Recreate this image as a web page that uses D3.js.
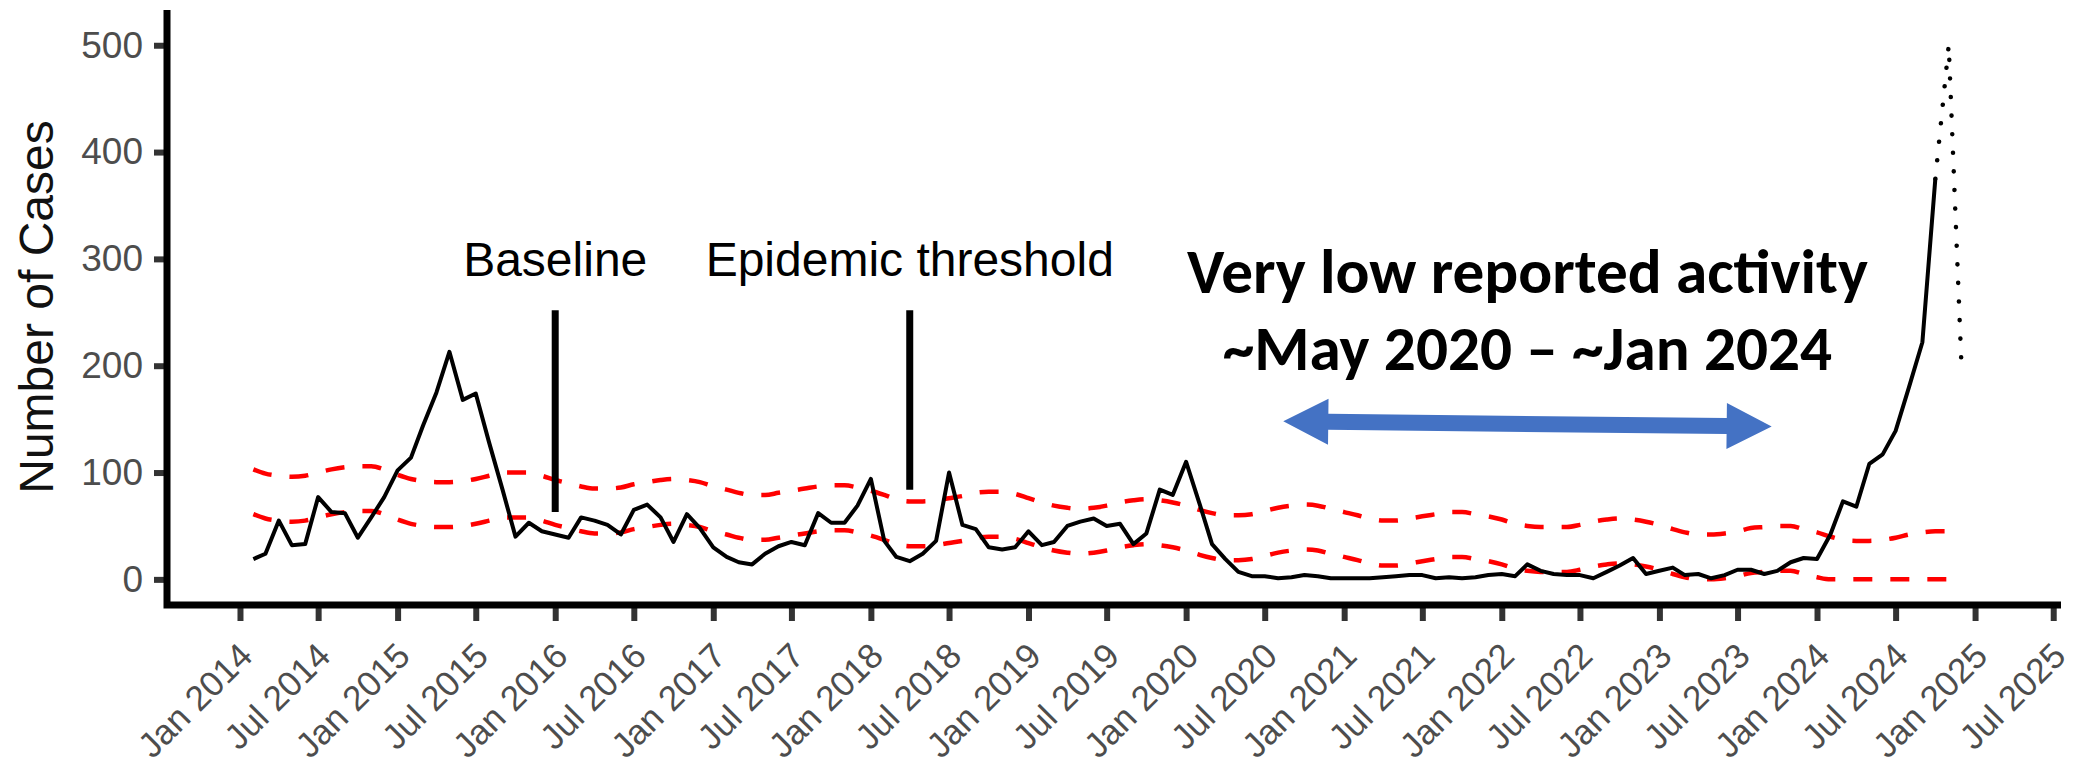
<!DOCTYPE html>
<html>
<head>
<meta charset="utf-8">
<script src="https://d3js.org/d3.v7.min.js"></script>
<style>
body { margin: 0; background: #fff; }
</style>
</head>
<body>
<script>
var width = 2085, height = 767;

// monthly reported cases, Feb 2014 .. Oct 2024
var caseStart = new Date(2014, 1, 1);
var cases = [19,24,55,32,33,77,63,62,39,58,
77,102,114,144,175,213,168,174,128,84,
40,53,45,42,39,58,55,51,42,65,
70,58,35,61,48,30,21,16,14,24,
31,35,32,62,53,53,69,94,36,21,
17,24,36,100,51,47,30,28,30,45,
32,35,50,54,57,50,52,33,43,84,
79,110,71,33,19,7,3,3,1,2,
4,3,1,1,1,1,2,3,4,4,
1,2,1,2,4,5,3,14,8,5,
4,4,1,7,13,20,5,8,11,4,
5,1,4,9,9,5,8,16,20,19,
42,73,68,108,117,139,180,222,375];

// dotted continuation, Oct 2024 .. Dec 2024
var dottedStart = new Date(2024, 9, 1);
var dotted = [375, 500, 195];

// epidemic threshold and baseline, Feb 2014 .. Dec 2024
var bandStart = new Date(2014, 1, 1);
var threshold = [103,99,97,96,97,100,103,105,106,106,
103,98,94,92,91,91,92,94,97,100,
100,100,97,93,90,87,85,85,86,89,
91,93,94,93,91,87,84,81,79,79,
81,83,85,87,88,88,86,83,79,75,
73,73,74,76,78,81,82,82,80,76,
72,69,67,66,67,69,72,74,75,74,
72,69,65,62,60,60,61,64,67,69,
70,69,66,63,60,57,55,55,57,59,
61,63,63,61,59,56,52,50,49,49,
49,51,54,56,57,56,54,51,47,44,
42,42,43,45,48,49,50,50,47,44,
40,37,36,36,37,39,42,44,45,45,44];
var baseline = [61,57,55,54,55,58,61,63,64,64,
61,56,52,50,49,49,50,52,55,58,
58,58,55,51,48,45,43,43,44,47,
49,51,52,51,49,45,42,39,37,37,
39,41,43,45,46,46,44,41,37,33,
31,31,32,34,36,39,40,40,38,34,
30,27,25,24,25,27,30,32,33,32,
30,27,23,20,18,18,19,22,25,27,
28,27,24,21,18,15,13,13,15,17,
19,21,21,19,17,14,10,8,7,7,
7,9,12,14,15,14,12,9,5,2,
0,0,1,3,6,7,8,8,5,2,
0,0,0,0,0,0,0,0,0,0,0];

var yTicks = [0, 100, 200, 300, 400, 500];
var xTicks = d3.timeMonth.range(new Date(2014, 0, 1), new Date(2025, 7, 1), 6);

// annotations
var pointerLabels = ["Baseline", "Epidemic threshold"];
var pointerDates = [new Date(2016, 0, 1), new Date(2018, 3, 1)];
var pointerTop = [252, 252];
var pointerBottom = [63, 84];
var pointerLabelValue = 284;
var noteLines = ["Very low reported activity", "~May 2020 \u2013 ~Jan 2024"];
var arrowFrom = {date: new Date(2020, 7, 13), value: 148};
var arrowTo = {date: new Date(2023, 8, 18), value: 143};

function series(start, values) {
  return values.map(function(v, i) { return {date: d3.timeMonth.offset(start, i), value: v}; });
}

var svg = d3.select("body").append("svg")
  .attr("width", width).attr("height", height)
  .style("background", "#fff");

var x = d3.scaleTime()
  .domain([new Date(2013, 6, 16), new Date(2025, 6, 19)])
  .range([167, 2061]);
var y = d3.scaleLinear()
  .domain([-24, 533])
  .range([605, 10]);

var fmt = d3.timeFormat("%b %Y");

// x axis
var gx = svg.append("g")
  .attr("transform", "translate(0," + y.range()[0] + ")")
  .call(d3.axisBottom(x).tickValues(xTicks).tickFormat(fmt).tickSize(16).tickSizeOuter(0));
gx.select(".domain").remove();
gx.selectAll(".tick line").attr("stroke", "#333").attr("stroke-width", 6);
gx.selectAll(".tick text")
  .attr("x", 0).attr("y", 0).attr("dy", 0)
  .attr("text-anchor", "end")
  .attr("transform", "translate(14,53) rotate(-45)")
  .attr("fill", "#4d4d4d")
  .style("font-family", "'Liberation Sans', Arial, sans-serif")
  .style("font-size", "35px");

// y axis
var gy = svg.append("g")
  .attr("transform", "translate(" + x.range()[0] + ",0)")
  .call(d3.axisLeft(y).tickValues(yTicks).tickSize(13).tickPadding(11).tickSizeOuter(0));
gy.select(".domain").remove();
gy.selectAll(".tick line").attr("stroke", "#333").attr("stroke-width", 6);
gy.selectAll(".tick text")
  .attr("fill", "#4d4d4d")
  .style("font-family", "'Liberation Sans', Arial, sans-serif")
  .style("font-size", "37px");

// axis lines
svg.append("path")
  .attr("d", "M" + x.range()[0] + "," + y.range()[1] + "V" + y.range()[0] + "H" + x.range()[1])
  .attr("fill", "none").attr("stroke", "#000").attr("stroke-width", 7)
  .attr("stroke-linejoin", "miter");

svg.append("text")
  .attr("transform", "translate(53," + 307 + ") rotate(-90)")
  .attr("text-anchor", "middle")
  .style("font-family", "'Liberation Sans', Arial, sans-serif")
  .style("font-size", "48px")
  .attr("fill", "#111")
  .text("Number of Cases");

var line = d3.line().x(function(d) { return x(d.date); }).y(function(d) { return y(d.value); });
var smooth = d3.line().curve(d3.curveMonotoneX)
  .x(function(d) { return x(d.date); }).y(function(d) { return y(d.value); });

// threshold bands
[threshold, baseline].forEach(function(vals) {
  svg.append("path")
    .datum(series(bandStart, vals))
    .attr("d", smooth)
    .attr("fill", "none").attr("stroke", "#ff0000").attr("stroke-width", 4.5)
    .attr("stroke-dasharray", "19 18");
});

// cases
svg.append("path")
  .datum(series(caseStart, cases))
  .attr("d", line)
  .attr("fill", "none").attr("stroke", "#000").attr("stroke-width", 4)
  .attr("stroke-linejoin", "round");

svg.append("path")
  .datum(series(dottedStart, dotted))
  .attr("d", line)
  .attr("fill", "none").attr("stroke", "#000").attr("stroke-width", 4.5)
  .attr("stroke-linecap", "round")
  .attr("stroke-dasharray", "0.1 18.5");

// pointer lines and labels
pointerLabels.forEach(function(lbl, i) {
  var px = x(pointerDates[i]);
  svg.append("line")
    .attr("x1", px).attr("x2", px)
    .attr("y1", y(pointerTop[i])).attr("y2", y(pointerBottom[i]))
    .attr("stroke", "#000").attr("stroke-width", 7);
  svg.append("text")
    .attr("x", px).attr("y", y(pointerLabelValue))
    .attr("text-anchor", "middle")
    .style("font-family", "'Liberation Sans', Arial, sans-serif")
    .style("font-size", "48px")
    .attr("fill", "#000")
    .text(lbl);
});

// double arrow
var ax1 = x(arrowFrom.date), ay1 = y(arrowFrom.value);
var ax2 = x(arrowTo.date), ay2 = y(arrowTo.value);
var len = Math.hypot(ax2 - ax1, ay2 - ay1);
var ang = Math.atan2(ay2 - ay1, ax2 - ax1) * 180 / Math.PI;
var sh = 8, hw = 23, hl = 45;
svg.append("path")
  .attr("transform", "translate(" + ax1 + "," + ay1 + ") rotate(" + ang + ")")
  .attr("d", "M0,0 L" + hl + "," + (-hw) + " L" + hl + "," + (-sh) + " L" + (len - hl) + "," + (-sh) +
    " L" + (len - hl) + "," + (-hw) + " L" + len + ",0 L" + (len - hl) + "," + hw +
    " L" + (len - hl) + "," + sh + " L" + hl + "," + sh + " L" + hl + "," + hw + "Z")
  .attr("fill", "#4472c4");

// bold note
var cx = (ax1 + ax2) / 2;
var note = svg.append("g")
  .style("font-family", "Carlito, Calibri, Lato, sans-serif")
  .style("font-weight", "bold")
  .attr("text-anchor", "middle")
  .attr("fill", "#000");
var t1 = note.append("text").attr("x", cx).attr("y", 293).style("font-size", "50px").text(noteLines[0]);
var t2 = note.append("text").attr("x", cx).attr("y", 370).style("font-size", "50px").text(noteLines[1]);
var fs = 50 * 681 / t1.node().getComputedTextLength();
t1.style("font-size", fs + "px");
t2.style("font-size", fs + "px");
</script>
</body>
</html>
